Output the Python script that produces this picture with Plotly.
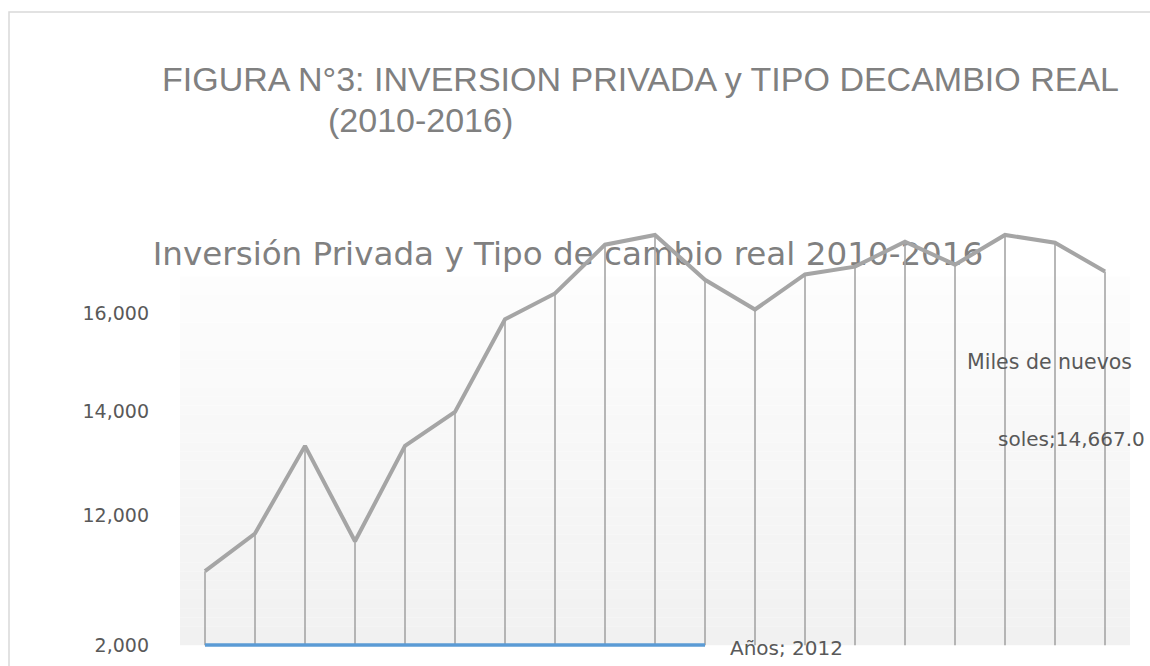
import numpy as np
import plotly.graph_objects as go

# ---------------- data ----------------
PERIODS = list(range(1, 20))
INVERSION = [7700, 10600, 13330, 10000, 13330, 13980, 15880, 16410, 17410, 17610,
             16690, 16080, 16800, 16960, 17470, 17000, 17610, 17450, 16860]
ANIOS_PERIODS = list(range(1, 12))
ANIOS = [2010, 2010, 2011, 2011, 2011, 2012, 2012, 2012, 2012, 2012, 2012]

TICK_VALUES = [2000, 12000, 14000, 16000]
TICK_TEXT = ["2,000", "12,000", "14,000", "16,000"]

TITLE_1 = "FIGURA N°3: INVERSION PRIVADA y TIPO DECAMBIO REAL"
TITLE_2 = "(2010-2016)"
SUBTITLE = "Inversión Privada y Tipo de cambio real 2010-2016"
LABEL_INV_1 = "Miles de nuevos"
LABEL_INV_2 = "soles;14,667.0"
LABEL_ANIOS = "Años; 2012"

# ---------------- broken-axis scale (Excel-like uneven axis) ----------------
TICK_POS = [0.0, 130.5, 235.5, 333.5]


def scale(v):
    v = np.asarray(v, dtype=float)
    out = np.interp(v, TICK_VALUES, TICK_POS)
    slope = (TICK_POS[-1] - TICK_POS[-2]) / (TICK_VALUES[-1] - TICK_VALUES[-2])
    hi = v > TICK_VALUES[-1]
    out[hi] = TICK_POS[-1] + (v[hi] - TICK_VALUES[-1]) * slope
    return out


W, H = 1150, 666
L, R, T, B = 180, 20, 225, 10
PW, PH = W - L - R, H - T - B
# vertical correction measured on the rendered page
VS, VOFF = 0.989, 2.6
BASE = 647.5  # target pixel row of the axis baseline


def internal_y(py):
    return (py - VOFF) / VS


U = VS  # axis units per internal pixel (1 unit == 1 rendered pixel)
Y_RANGE = [-(H - B - internal_y(BASE)) * U, (internal_y(BASE) - T) * U]


def px_x(px):
    return (px - L) / PW


def px_y(py):
    return (H - B - internal_y(py)) / PH


inv_y = scale(INVERSION)
anios_y = scale(ANIOS)

GRAY = "#a5a5a5"
BLUE = "#5b9bd5"
TXT = "#595959"
TITLE_C = "#808080"

fig = go.Figure()

# subtitle as text trace so the line is drawn over it (as in the reference)
fig.add_trace(go.Scatter(
    x=[0.5 + (568 - L) / 50], y=[BASE - 257], mode="text", text=[SUBTITLE],
    textfont=dict(family="DejaVu Sans", size=32.6, color=TITLE_C),
    hoverinfo="skip", showlegend=False, cliponaxis=False))

# drop lines
dx, dy = [], []
for xi, yi in zip(PERIODS, inv_y):
    dx += [xi, xi, None]
    dy += [yi, 0, None]
fig.add_trace(go.Scatter(x=dx, y=dy, mode="lines",
                         line=dict(color=GRAY, width=1.6),
                         hoverinfo="skip", showlegend=False))

fig.add_trace(go.Scatter(x=ANIOS_PERIODS, y=anios_y, mode="lines",
                         line=dict(color=BLUE, width=3.5),
                         name="Años", showlegend=False))

fig.add_trace(go.Scatter(x=PERIODS, y=inv_y, mode="lines",
                         line=dict(color=GRAY, width=4),
                         name="Miles de nuevos soles", showlegend=False))

# gradient plot-area background
shapes = []
N = 40
top = BASE - 277
for i in range(N):
    y0 = top * i / N
    y1 = top * (i + 1) / N
    t = (i + 0.5) / N
    c = int(round(241 + (253 - 241) * t))
    shapes.append(dict(type="rect", xref="paper", yref="y", x0=0, x1=1, y0=y0, y1=y1,
                       fillcolor=f"rgb({c},{c},{c})", line=dict(width=0), layer="below"))

# chart frame (left/top visible)
shapes.append(dict(type="rect", xref="paper", yref="paper",
                   x0=px_x(9), x1=px_x(1170), y0=px_y(700), y1=px_y(11),
                   line=dict(color="#d9d9d9", width=1.5), fillcolor="rgba(0,0,0,0)"))

annotations = [
    dict(text=TITLE_1, x=px_x(640), y=px_y(78), xref="paper", yref="paper",
         xanchor="center", yanchor="middle", showarrow=False,
         font=dict(family="Liberation Sans", size=34, color=TITLE_C)),
    dict(text=TITLE_2, x=px_x(420), y=px_y(120), xref="paper", yref="paper",
         xanchor="center", yanchor="middle", showarrow=False,
         font=dict(family="Liberation Sans", size=34, color=TITLE_C)),
    dict(text=LABEL_INV_1, x=px_x(965), y=px_y(363), xref="paper", yref="paper",
         xanchor="left", yanchor="middle", showarrow=False,
         font=dict(family="DejaVu Sans", size=20.5, color=TXT)),
    dict(text=LABEL_INV_2, x=px_x(1147), y=px_y(440), xref="paper", yref="paper",
         xanchor="right", yanchor="middle", showarrow=False,
         font=dict(family="DejaVu Sans", size=20, color=TXT)),
    dict(text=LABEL_ANIOS, x=px_x(728), y=px_y(650), xref="paper", yref="paper",
         xanchor="left", yanchor="middle", showarrow=False,
         font=dict(family="DejaVu Sans", size=20, color=TXT)),
]

fig.update_layout(
    width=W, height=H,
    margin=dict(l=L, r=R, t=T, b=B),
    paper_bgcolor="white", plot_bgcolor="rgba(0,0,0,0)",
    shapes=shapes, annotations=annotations, showlegend=False,
    xaxis=dict(range=[0.5, 19.5], showgrid=False, zeroline=False, showline=False,
               showticklabels=False, ticks="", fixedrange=True),
    yaxis=dict(range=Y_RANGE, tickvals=list(scale(TICK_VALUES)), ticktext=TICK_TEXT,
               showgrid=False, zeroline=False, showline=False, ticks="",
               ticklabelstandoff=30, fixedrange=True,
               tickfont=dict(family="DejaVu Sans", size=19, color=TXT)),
)

POST = (
    "var gd=document.getElementById('{plot_id}');"
    "var de=document.documentElement, bd=document.body;"
    "[de,bd].forEach(function(e){e.style.margin='0';e.style.padding='0';"
    "e.style.overflow='hidden';e.style.height='666px';});"
    "if(gd&&gd.parentElement){gd.parentElement.style.height='666px';"
    "gd.parentElement.style.overflow='hidden';}"
)

fig.write_html("out.html", config={"displayModeBar": False}, post_script=POST)
